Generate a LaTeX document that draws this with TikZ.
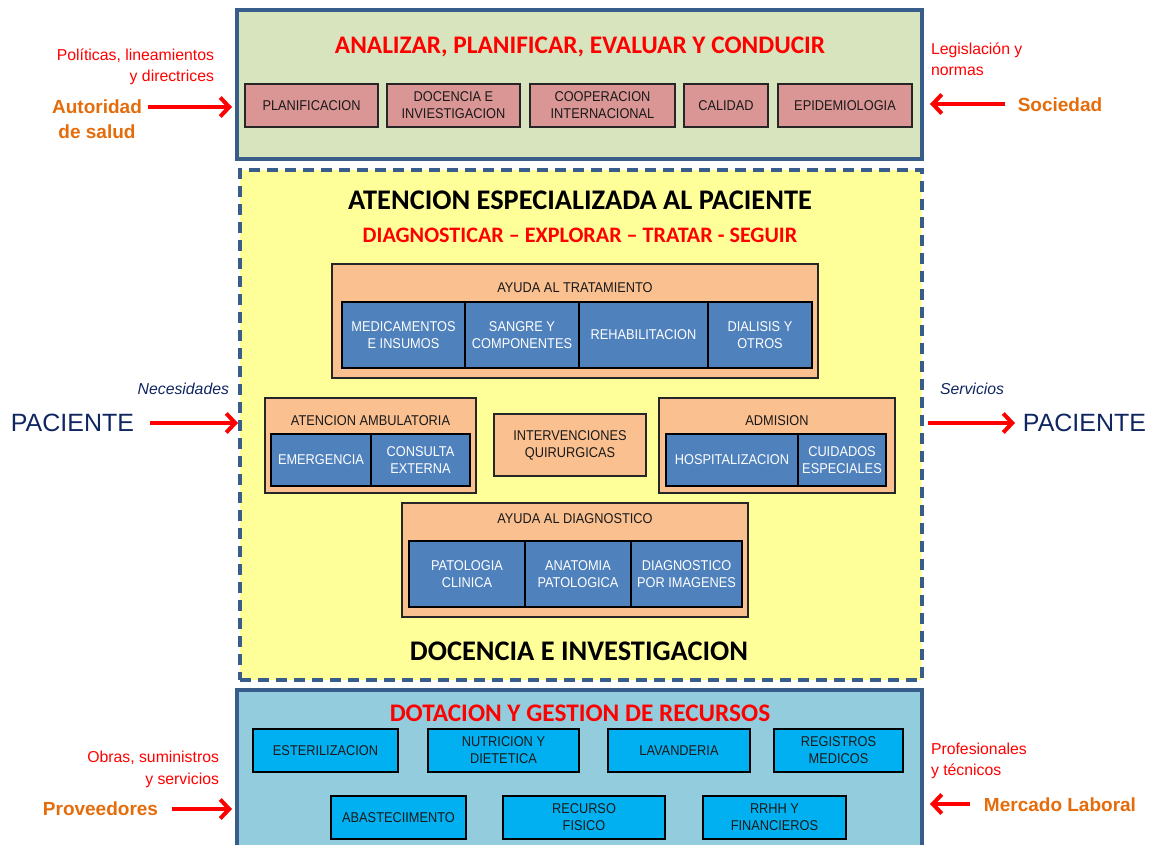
\documentclass[tikz,border=0pt]{standalone}
\usepackage{fontspec}
\setmainfont{Liberation Sans}
\newfontfamily\calibf{Carlito}
\newfontfamily\narrowf[FakeStretch=0.9]{Liberation Sans}
\usetikzlibrary{arrows.meta}
\definecolor{bord}{HTML}{385D8A}
\definecolor{greenfill}{HTML}{D7E4BD}
\definecolor{yellowfill}{HTML}{FFFF99}
\definecolor{bluefill}{HTML}{93CDDD}
\definecolor{pinkbox}{HTML}{D99694}
\definecolor{peachbox}{HTML}{FAC090}
\definecolor{bluebox}{HTML}{4F81BD}
\definecolor{cyanbox}{HTML}{00B0F0}
\definecolor{redtxt}{HTML}{FF0000}
\definecolor{orangetxt}{HTML}{E46C0A}
\definecolor{navytxt}{HTML}{0F2660}
\newcommand\bxfont{\narrowf\fontsize{14.2}{17}\selectfont}
\newcommand\bbox[7]{\node[#1, minimum width=#5pt, minimum height=#6pt] (#2) at (#3,#4) {#7};}
\begin{document}
\begin{tikzpicture}[x=1pt,y=-1pt,
  every node/.style={inner sep=0pt, outer sep=0pt},
  bigbox/.style={draw=bord, line width=3.2pt},
  dashbox/.style={draw=bord, line width=3.2pt, dash pattern=on 11pt off 7pt},
  pinkb/.style={draw=black!85, fill=pinkbox, line width=1.2pt, align=center, font=\bxfont, text=black!90},
  peachb/.style={draw=black!85, fill=peachbox, line width=1.2pt, align=center, font=\bxfont, text=black!90},
  blueb/.style={draw=black, fill=bluebox, line width=1.2pt, align=center, font=\bxfont, text=white},
  cyanb/.style={draw=black, fill=cyanbox, line width=1.2pt, align=center, font=\bxfont, text=black!90},
  boxlabel/.style={font=\bxfont, text=black!90},
  redtitle/.style={text=redtxt, font=\calibf\bfseries\fontsize{25.3}{30}\selectfont},
  blacktitle/.style={text=black, font=\calibf\bfseries\fontsize{28.4}{34}\selectfont},
  redside/.style={text=redtxt, font=\fontsize{15.8}{21.5}\selectfont},
  orangeside/.style={text=orangetxt, font=\bfseries\fontsize{19}{25}\selectfont, align=center},
  navyside/.style={text=navytxt, font=\fontsize{25}{30}\selectfont},
  navyital/.style={text=navytxt, font=\itshape\fontsize{15.8}{20}\selectfont},
  redarr/.style={draw=redtxt, line width=4pt, -{Straight Barb[length=9pt,width=19pt]}}
]
\useasboundingbox (0,0) rectangle (1154,845);

% big frames
\bbox{bigbox, fill=greenfill}{top}{579.5}{84.5}{685}{149}{}
\bbox{dashbox, fill=yellowfill}{mid}{581}{425}{682}{510}{}
\bbox{bigbox, fill=bluefill}{bot}{579.5}{775}{685}{170}{}

% top section
\node[redtitle] (t1) at (580,47) {ANALIZAR, PLANIFICAR, EVALUAR Y CONDUCIR};
\bbox{pinkb}{p1}{311.5}{105.5}{133}{43}{PLANIFICACION}
\bbox{pinkb}{p2}{453.5}{105.5}{133}{43}{DOCENCIA E\\INVIESTIGACION}
\bbox{pinkb}{p3}{602.5}{105.5}{145}{43}{COOPERACION\\INTERNACIONAL}
\bbox{pinkb}{p4}{726}{105.5}{84}{43}{CALIDAD}
\bbox{pinkb}{p5}{845}{105.5}{134}{43}{EPIDEMIOLOGIA}

% middle section
\node[blacktitle] (t2) at (580,200) {ATENCION ESPECIALIZADA AL PACIENTE};
\node[text=redtxt, font=\calibf\bfseries\fontsize{22.1}{26}\selectfont] (t3) at (580,235) {DIAGNOSTICAR – EXPLORAR – TRATAR - SEGUIR};

\bbox{peachb}{trat}{575}{321}{486}{114}{}
\node[boxlabel] (tratl) at (575,288) {AYUDA AL TRATAMIENTO};
\bbox{blueb}{b1}{403.5}{335}{123}{66}{MEDICAMENTOS\\E INSUMOS}
\bbox{blueb}{b2}{522}{335}{114}{66}{SANGRE Y\\COMPONENTES}
\bbox{blueb}{b3}{643.5}{335}{129}{66}{REHABILITACION}
\bbox{blueb}{b4}{760}{335}{104}{66}{DIALISIS Y\\OTROS}

\bbox{peachb}{amb}{370.5}{445.5}{211}{95}{}
\node[boxlabel] (ambl) at (370.5,421) {ATENCION AMBULATORIA};
\bbox{blueb}{b5}{321}{460}{100}{52}{EMERGENCIA}
\bbox{blueb}{b6}{420.5}{460}{99}{52}{CONSULTA\\EXTERNA}

\bbox{peachb}{quir}{570}{445}{152}{62}{INTERVENCIONES\\QUIRURGICAS}

\bbox{peachb}{adm}{777}{445.5}{236}{95}{}
\node[boxlabel] (adml) at (777,421) {ADMISION};
\bbox{blueb}{b7}{732}{460}{132}{52}{HOSPITALIZACION}
\bbox{blueb}{b8}{842}{460}{88}{52}{CUIDADOS\\ESPECIALES}

\bbox{peachb}{diag}{575}{560}{346}{114}{}
\node[boxlabel] (diagl) at (575,519) {AYUDA AL DIAGNOSTICO};
\bbox{blueb}{b9}{467}{574}{116}{66}{PATOLOGIA\\CLINICA}
\bbox{blueb}{b10}{578}{574}{106}{66}{ANATOMIA\\PATOLOGICA}
\bbox{blueb}{b11}{686.5}{574}{111}{66}{DIAGNOSTICO\\POR IMAGENES}

\node[blacktitle] (t4) at (579,651) {DOCENCIA E INVESTIGACION};

% bottom section
\node[redtitle] (t5) at (580,713) {DOTACION Y GESTION DE RECURSOS};
\bbox{cyanb}{c1}{325.5}{750.5}{145}{43}{ESTERILIZACION}
\bbox{cyanb}{c2}{503.5}{750.5}{151}{43}{NUTRICION Y\\DIETETICA}
\bbox{cyanb}{c3}{679}{750.5}{142}{43}{LAVANDERIA}
\bbox{cyanb}{c4}{838.5}{750.5}{129}{43}{REGISTROS\\MEDICOS}
\bbox{cyanb}{c5}{398.5}{817.5}{135}{43}{ABASTECIIMENTO}
\bbox{cyanb}{c6}{584}{817.5}{162}{43}{RECURSO\\FISICO}
\bbox{cyanb}{c7}{774.5}{817.5}{143}{43}{RRHH Y\\FINANCIEROS}

% side texts, top
\node[redside, align=right, anchor=east] (pol) at (214,67) {Políticas, lineamientos\\y directrices};
\node[orangeside] (aut) at (97,119.5) {Autoridad\\de salud};
\node[redside, align=left, anchor=west] (leg) at (931,59.5) {Legislación y\\normas};
\node[orangeside] (soc) at (1060,105) {Sociedad};

% side texts, middle
\node[navyital, anchor=east] (nec) at (229,389) {Necesidades};
\node[navyside] (pacl) at (72.5,423) {PACIENTE};
\node[navyital, anchor=west] (serv) at (940,389) {Servicios};
\node[navyside] (pacr) at (1084.5,423) {PACIENTE};

% side texts, bottom
\node[redside, align=right, anchor=east] (obr) at (219,769.5) {Obras, suministros\\y servicios};
\node[orangeside] (prov) at (100.5,809) {Proveedores};
\node[redside, align=left, anchor=west] (prof) at (931,761) {Profesionales\\y técnicos};
\node[orangeside] (merc) at (1060,805) {Mercado Laboral};

% arrow start coordinates
\coordinate (autS) at (148,107);
\coordinate (socS) at (1005,104);
\coordinate (paclS) at (150,423);
\coordinate (pacrE) at (1015,423);
\coordinate (provS) at (172,809);
\coordinate (mercS) at (970,804);

% arrows
\draw[redarr] (autS) -- ([xshift=-5pt]top.west |- autS);
\draw[redarr] (socS) -- ([xshift=8pt]top.east |- socS);
\draw[redarr] (paclS) -- ([xshift=-2pt]mid.west |- paclS);
\draw[redarr] ([xshift=6pt]mid.east |- pacrE) -- (pacrE);
\draw[redarr] (provS) -- ([xshift=-5pt]bot.west |- provS);
\draw[redarr] (mercS) -- ([xshift=8pt]bot.east |- mercS);
\end{tikzpicture}
\end{document}
